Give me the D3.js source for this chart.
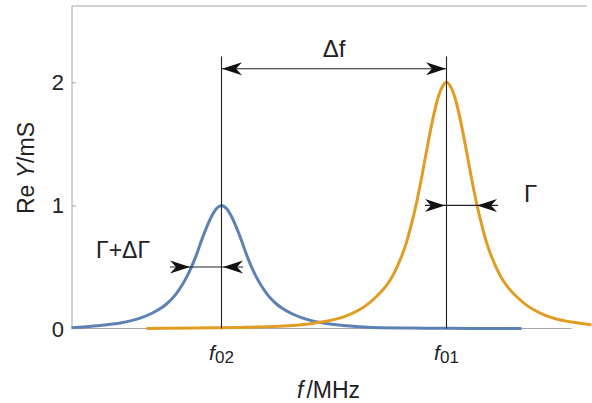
<!DOCTYPE html>
<html><head><meta charset="utf-8">
<script src="https://cdn.jsdelivr.net/npm/d3@7"></script>
<style>
body{margin:0;background:#fff}
text{font-family:"Liberation Sans",Arial,sans-serif;fill:#222}
</style>
</head><body>
<svg id="c" width="592" height="403"></svg>
<script>
// ---- data ----
const blueF = [0, 0.5, 1.0, 1.2, 1.4, 1.6, 1.8, 1.9, 2.0, 2.1, 2.2, 2.3, 2.4, 2.5, 2.6, 2.7, 2.8, 2.9, 3.0, 3.1, 3.2, 3.3, 3.4, 3.5, 3.6, 3.7, 3.8, 3.9, 4.0, 4.1, 4.2, 4.4, 4.6, 4.8, 5.0, 5.5, 6.0, 7.0, 8.0, 9.0];
const blueV = [0.006, 0.022, 0.047, 0.064, 0.088, 0.122, 0.168, 0.199, 0.237, 0.285, 0.345, 0.415, 0.50, 0.60, 0.715, 0.82, 0.91, 0.975, 1.0, 0.975, 0.91, 0.82, 0.715, 0.60, 0.50, 0.415, 0.345, 0.285, 0.237, 0.199, 0.168, 0.122, 0.088, 0.064, 0.047, 0.022, 0.009, 0.003, 0.001, 0.0];
const orangeF = [1.5, 2.5, 3.5, 4.5, 5.0, 5.5, 5.7, 5.9, 6.1, 6.3, 6.4, 6.5, 6.6, 6.7, 6.8, 6.9, 7.0, 7.1, 7.2, 7.3, 7.4, 7.5, 7.6, 7.7, 7.8, 7.9, 8.0, 8.1, 8.2, 8.3, 8.4, 8.5, 8.6, 8.7, 8.9, 9.1, 9.3, 9.5, 10.0, 10.4];
const orangeV = [0.0, 0.004, 0.01, 0.027, 0.052, 0.103, 0.14, 0.19, 0.26, 0.35, 0.41, 0.49, 0.585, 0.70, 0.85, 1.02, 1.22, 1.44, 1.65, 1.83, 1.95, 2.0, 1.95, 1.83, 1.65, 1.44, 1.22, 1.02, 0.85, 0.70, 0.585, 0.49, 0.41, 0.35, 0.26, 0.19, 0.14, 0.103, 0.052, 0.031];
const yTicks = [0, 1, 2];
const yTickLabels = ["0", "1", "2"];
const peakF = [3.0, 7.5];          // f02, f01
const peakSub = ["02", "01"];
const deltaFLevel = 2.11;
const lineTop = 2.21;
// Γ markers: [level, left end, left tip, right tip, right end]
const gammaBlue = [0.5, 1.97, 2.37, 3.03, 3.43];
const gammaOrange = [1.0, 7.07, 7.47, 8.11, 8.53];

// ---- scales ----
const x = d3.scaleLinear().domain([0, 10]).range([71.5, 571.5]);
const y = d3.scaleLinear().domain([0, 2.62]).range([328.5, 6]);

const svg = d3.select("#c");
const axisCol = "#a6a6a6";

// frame
svg.append("line").attr("x1", 72).attr("x2", 587).attr("y1", y(2.62)).attr("y2", y(2.62)).attr("stroke", axisCol);
const yAxis = d3.axisLeft(y).tickValues(yTicks.slice(1)).tickSize(-4).tickFormat("");
const gy = svg.append("g").attr("transform", "translate(72,0)").call(yAxis);
gy.select(".domain").remove();
gy.selectAll(".tick line").attr("stroke", axisCol);
svg.append("line").attr("x1", 72).attr("x2", 72).attr("y1", y(2.62)).attr("y2", y(0)).attr("stroke", axisCol);
svg.append("line").attr("x1", 72).attr("x2", x(10)).attr("y1", y(0)).attr("y2", y(0)).attr("stroke", axisCol);

// tick labels
svg.selectAll(".yl").data(yTicks).join("text")
  .attr("x", 64).attr("y", d => y(d) + 8).attr("text-anchor", "end")
  .attr("font-size", 22).text((d, i) => yTickLabels[i]);

// curves
const line = d3.line().x(d => x(d[0])).y(d => y(d[1])).curve(d3.curveMonotoneX);
svg.append("path").datum(blueF.map((f, i) => [f, blueV[i]]))
  .attr("d", line).attr("fill", "none").attr("stroke", "#5E81B5").attr("stroke-width", 3);
svg.append("path").datum(orangeF.map((f, i) => [f, orangeV[i]]))
  .attr("d", line).attr("fill", "none").attr("stroke", "#E19C24").attr("stroke-width", 3);

// vertical lines at peaks
svg.selectAll(".vl").data(peakF).join("line")
  .attr("x1", d => x(d)).attr("x2", d => x(d))
  .attr("y1", y(lineTop)).attr("y2", y(0)).attr("stroke", "#222").attr("stroke-width", 1.1);

// arrowhead helper
function head(tx, ty, dir) {
  const L = 20, W = 6.5, N = 14;
  const p = [[tx, ty], [tx - dir * L, ty - W], [tx - dir * N, ty], [tx - dir * L, ty + W]];
  svg.append("path").attr("d", "M" + p.map(q => q.join(",")).join("L") + "Z").attr("fill", "#111");
}

// Δf arrow
svg.append("line").attr("x1", x(peakF[0])).attr("x2", x(peakF[1]))
  .attr("y1", y(deltaFLevel)).attr("y2", y(deltaFLevel)).attr("stroke", "#222").attr("stroke-width", 1.1);
head(x(peakF[0]) + 0.5, y(deltaFLevel), -1);
head(x(peakF[1]) - 0.5, y(deltaFLevel), 1);

// Γ markers
[gammaBlue, gammaOrange].forEach(g => {
  svg.append("line").attr("x1", x(g[1])).attr("x2", x(g[4]))
    .attr("y1", y(g[0])).attr("y2", y(g[0])).attr("stroke", "#222").attr("stroke-width", 1.1);
  head(x(g[2]), y(g[0]), 1);
  head(x(g[3]), y(g[0]), -1);
});

// annotation labels
svg.append("text").attr("x", 334).attr("y", 57).attr("text-anchor", "middle").attr("font-size", 24).text("Δf");
svg.append("text").attr("x", 524).attr("y", 202).attr("font-size", 24).text("Γ");
svg.append("text").attr("x", 96).attr("y", 258).attr("font-size", 23).text("Γ+ΔΓ");

// peak labels
peakF.forEach((f, i) => {
  const t = svg.append("text").attr("x", x(f)).attr("y", 360).attr("text-anchor", "middle").attr("font-size", 21);
  t.append("tspan").attr("font-style", "italic").text("f");
  t.append("tspan").attr("font-size", 17).attr("dy", 3).text(peakSub[i]);
});

// axis labels
const xl = svg.append("text").attr("x", 297).attr("y", 398).attr("font-size", 23);
xl.append("tspan").attr("font-style", "italic").text("f");
xl.append("tspan").attr("dx", 3).text("/MHz");

const yl = svg.append("text").attr("transform", "translate(34,168) rotate(-90)").attr("text-anchor", "middle").attr("font-size", 23);
yl.append("tspan").text("Re ");
yl.append("tspan").attr("font-style", "italic").text("Y");
yl.append("tspan").text("/mS");
</script>
</body></html>
